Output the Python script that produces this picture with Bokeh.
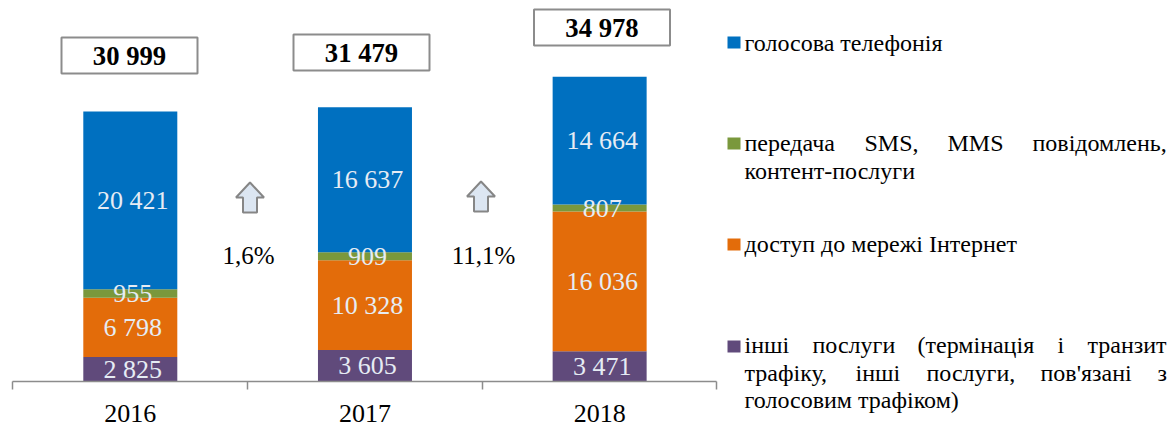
from bokeh.plotting import figure
from bokeh.models import ColumnDataSource, Range1d, FixedTicker, Label
from bokeh.core.properties import value
from bokeh.embed import file_html
from bokeh.resources import INLINE

years = [2016, 2017, 2018]
other = [2825, 3605, 3471]
internet = [6798, 10328, 16036]
sms = [955, 909, 807]
voice = [20421, 16637, 14664]
totals = ["30 999", "31 479", "34 978"]
growth = ["1,6%", "11,1%"]
series = ["other", "internet", "sms", "voice"]
colors = ["#604A7B", "#E36C0A", "#7A983C", "#0070C0"]
FONT = "Liberation Serif"

def fmt(v):
    return f"{v:,}".replace(",", " ")

W, H = 1170, 424
STEP = 234.67
CX0 = 129.8
PX_PER_UNIT = 0.00871
BASE = 381

def fx(px):
    return 2016 + (px - CX0) / STEP

def fy(py):
    return (BASE - py) / PX_PER_UNIT

p = figure(width=W, height=H, output_backend="svg", toolbar_location=None,
           x_range=Range1d(fx(0), fx(W)), y_range=Range1d(fy(H), fy(0)),
           min_border_left=0, min_border_right=0, min_border_top=0, min_border_bottom=0)
p.outline_line_color = None
p.grid.visible = False
p.yaxis.visible = False

source = ColumnDataSource(dict(year=years, other=other, internet=internet, sms=sms, voice=voice))
p.vbar_stack(series, x="year", width=94 / STEP, color=colors, line_color=None, source=source)

ax = p.xaxis[0]
ax.fixed_location = 0
ax.bounds = (2015.5, 2018.5)
ax.ticker = FixedTicker(ticks=years, minor_ticks=[2015.5, 2016.5, 2017.5, 2018.5])
ax.major_label_overrides = {y: str(y) for y in years}
ax.major_tick_line_color = None
ax.major_tick_in = 0
ax.major_tick_out = 0
ax.minor_tick_in = 0
ax.minor_tick_out = 8
ax.minor_tick_line_color = "#8C8C8C"
ax.minor_tick_line_width = 1.5
ax.axis_line_color = "#8C8C8C"
ax.axis_line_width = 1.5
ax.major_label_standoff = 15
ax.major_label_text_font = FONT
ax.major_label_text_font_size = "26px"
ax.major_label_text_color = "#000000"

# segment value labels
lx, ly, lt = [], [], []
for i, y in enumerate(years):
    b = 0
    for s in (other, internet, sms, voice):
        lx.append(y)
        ly.append(b + s[i] / 2)
        lt.append(fmt(s[i]))
        b += s[i]
p.text(lx, ly, text=lt, text_align="center", text_baseline="middle", x_offset=2.5, y_offset=0,
       text_color="#E6ECF4", text_font=value(FONT), text_font_size="26px")

# total boxes
box_cx = [129, 361, 601.5]
box_cy = [55, 52, 27]
p.rect([fx(v) for v in box_cx], [fy(v) for v in box_cy], width=136 / STEP, height=36 / PX_PER_UNIT,
       fill_color="#FFFFFF", line_color="#8C8C8C", line_width=2)
p.text([fx(v) for v in box_cx], [fy(v) for v in box_cy], text=totals, text_align="center",
       text_baseline="middle", text_color="#000000", text_font=value(FONT),
       text_font_style="bold", text_font_size="26.7px")

# growth arrows and labels
arrow_cx = [249.5, 480.5]
arrow_top = [182, 181]
for c, t in zip(arrow_cx, arrow_top):
    xs = [c, c + 14, c + 7, c + 7, c - 7, c - 7, c - 14]
    ys = [t, t + 15, t + 15, t + 30, t + 30, t + 15, t + 15]
    p.patch([fx(v) for v in xs], [fy(v) for v in ys], fill_color="#DCE6F2", line_color="#868686", line_width=2)
p.text([fx(248), fx(483)], [fy(255), fy(255)], text=growth, text_align="center", text_baseline="middle",
       text_color="#000000", text_font=value(FONT), text_font_size="25px")

# legend
leg_y = [42, 143, 244, 346]
p.rect([fx(733.5)] * 4, [fy(v) for v in leg_y], width=13 / STEP, height=12 / PX_PER_UNIT,
       fill_color=colors[::-1], line_color=None)

legend_words = [
    (744, 42, "голосова телефонія"),
    (744, 142, "передача"), (864, 142, "SMS,"), (947, 142, "MMS"), (1032, 142, "повідомлень,"),
    (744, 170, "контент-послуги"),
    (744, 243, "доступ до мережі Інтернет"),
    (744, 344, "інші"), (812, 344, "послуги"), (917, 344, "(термінація"), (1057, 344, "і"), (1087, 344, "транзит"),
    (744, 372, "трафіку,"), (855, 372, "інші"), (926, 372, "послуги,"), (1040, 372, "пов'язані"), (1157, 372, "з"),
    (744, 399, "голосовим трафіком)"),
]
for x, y, t in legend_words:
    p.add_layout(Label(x=fx(x), y=fy(y), text=t, text_font=FONT, text_font_size="24px",
                       text_color="#000000", text_baseline="alphabetic", text_align="left"))

open("out.html", "w").write(file_html(p, INLINE))
